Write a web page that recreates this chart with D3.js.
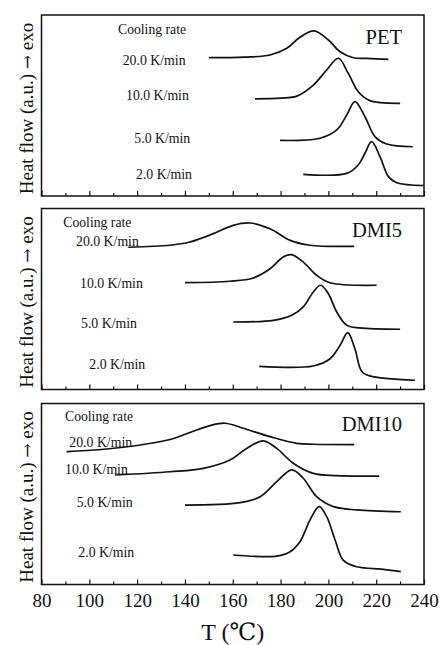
<!DOCTYPE html>
<html>
<head>
<meta charset="utf-8">
<script src="https://cdn.jsdelivr.net/npm/d3@7"></script>
<style>
  body { margin: 0; background: #fff; }
  svg { display: block; }
  text { font-family: "Liberation Serif", "Times New Roman", "DejaVu Serif", serif; fill: #111; }
</style>
</head>
<body>
<svg id="chart" width="441" height="645"></svg>
<script>
// Non-isothermal crystallization exotherms (DSC cooling scans).
// Each curve: [temperature °C, heat flow a.u.]; heat flow is shown with a
// vertical offset per cooling rate, on a 0–100 a.u. scale per panel.
const samples = ["PET", "DMI5", "DMI10"];
const rates = ["20.0 K/min", "10.0 K/min", "5.0 K/min", "2.0 K/min"];
const xTicks = [80, 100, 120, 140, 160, 180, 200, 220, 240];

const pet20 = [[150, 76.4], [165, 76.7], [175.6, 77.9], [182.6, 81.6], [188.1, 87.7], [194, 91.2],
  [200, 86.2], [204.9, 79.7], [210.5, 76.4], [216, 76.0], [225.1, 75.5]];
const pet10 = [[169.3, 53.7], [180, 54.1], [186.8, 55.2], [193.7, 61.3], [199.3, 69.6], [204.2, 76.1],
  [208.3, 67.8], [212.5, 57.6], [217.4, 52.7], [230, 51.2]];
const pet5 = [[179.8, 30.7], [196.5, 31.9], [203.5, 36.5], [207.7, 44.8], [211.1, 52.1],
  [215.3, 43.8], [219.5, 32.8], [224.4, 28.7], [235.3, 27.2]];
const pet2 = [[189.5, 12.0], [207.7, 12.5], [212.5, 17.1], [215.3, 23.6], [218.1, 30.0],
  [221.6, 21.7], [225.1, 10.7], [228.6, 7.3], [240, 5.8]];

const dmi5_20 = [[116.3, 78.6], [133.8, 79.7], [142.1, 81.5], [151.9, 86.1], [160.2, 90.7], [167.2, 92.0],
  [175.6, 88.8], [184, 82.4], [192.3, 79.7], [210.8, 79.1]];
const dmi5_10 = [[140, 59.0], [158.8, 59.8], [168.6, 61.6], [175.6, 66.7], [181.1, 73.2], [184.6, 74.5],
  [189.5, 70.4], [195.1, 63.1], [200.7, 59.0], [220.2, 57.6]];
const dmi5_5 = [[160.2, 37.3], [177, 38.2], [184.7, 41.0], [189.5, 45.6], [193.7, 53.9], [196.8, 57.6],
  [200, 52.9], [203.5, 42.8], [207.7, 35.5], [213.2, 34.0], [230, 33.3]];
const dmi5_2 = [[171.1, 12.8], [193.7, 13.0], [200.7, 17.0], [204.9, 24.4], [208.1, 31.4],
  [211.1, 22.5], [213.9, 10.1], [217.4, 7.5], [236.2, 5.1]];

const dmi10_20 = [[90.5, 73.4], [105, 74.6], [120, 76.8], [133.8, 80.1], [142.1, 84.0], [150.5, 87.8],
  [156.8, 89.1], [164.4, 86.3], [175.6, 81.7], [186.8, 78.0], [193.7, 77.5], [210.8, 77.3]];
const dmi10_10 = [[110.7, 60.5], [133.8, 62.3], [147.7, 64.2], [158.8, 68.8], [165.8, 75.2], [172.8, 79.4],
  [178.4, 75.2], [185.3, 67.0], [193.7, 61.4], [203.5, 60.1], [221.3, 59.9]];
const dmi10_5 = [[140, 43.9], [163, 45.2], [171.4, 48.5], [178.4, 56.8], [184.7, 63.3],
  [189.5, 58.7], [195.1, 48.5], [202.1, 43.0], [211.9, 41.2], [230.3, 40.2]];
const dmi10_2 = [[160.2, 16.3], [178.4, 15.7], [184, 18.1], [188.1, 23.6], [192.3, 35.6], [196.1, 43.0],
  [199.3, 37.5], [202.8, 24.6], [206.2, 13.5], [211.9, 9.8], [223, 8.4], [230.3, 7.1]];

const curvesBySample = [
  [pet20, pet10, pet5, pet2],
  [dmi5_20, dmi5_10, dmi5_5, dmi5_2],
  [dmi10_20, dmi10_10, dmi10_5, dmi10_2]
];

// ---- layout ----
const plotLeft = 41.5, plotRight = 424;
const panelTops = [15, 208.5, 403.5];
const panelH = 181;

// text placement inside each panel (relative to panel top-left)
const layout = [
  { cool: [118, 18.5], rateX: [122.7, 126, 134.3, 136], rateY: [49.5, 85, 127.5, 164], nameY: 28.5 },
  { cool: [63.3, 18.2], rateX: [76, 80, 81, 89.3], rateY: [37.5, 79.8, 119.8, 160.8], nameY: 28.5 },
  { cool: [65, 17.2], rateX: [69.3, 65, 76.7, 78.3], rateY: [43.2, 70.5, 103.8, 153.8], nameY: 27.2 }
];

const svg = d3.select("#chart");
const x = d3.scaleLinear().domain([80, 240]).range([plotLeft, plotRight]);

samples.forEach((name, i) => {
  const top = panelTops[i];
  const y = d3.scaleLinear().domain([0, 100]).range([top + panelH, top]);
  const g = svg.append("g");

  // curves
  const line = d3.line()
    .x(d => x(d[0]))
    .y(d => y(d[1]))
    .curve(d3.curveCatmullRom.alpha(0.5));
  g.selectAll("path.curve")
    .data(curvesBySample[i])
    .join("path")
    .attr("class", "curve")
    .attr("d", line)
    .attr("fill", "none")
    .attr("stroke", "#111")
    .attr("stroke-width", 1.7)
    .attr("stroke-linejoin", "round");

  // bottom axis: inward ticks, labels only on the last panel
  const axis = d3.axisBottom(x)
    .tickValues(d3.range(80, 241, 10))
    .tickSize(0)
    .tickFormat("");
  const ax = g.append("g").attr("transform", `translate(0,${top + panelH})`).call(axis);
  ax.select(".domain").remove();
  ax.selectAll(".tick line")
    .attr("y2", d => (d % 20 === 0 ? -5 : -3))
    .attr("stroke", "#111")
    .attr("stroke-width", 1.2);

  if (i === samples.length - 1) {
    const labels = d3.axisBottom(x).tickValues(xTicks).tickSize(0).tickPadding(0).tickFormat(d3.format("d"));
    const lg = g.append("g").attr("transform", `translate(0,${top + panelH})`).call(labels);
    lg.select(".domain").remove();
    lg.selectAll(".tick text")
      .attr("y", 22.5)
      .attr("dy", null)
      .style("font-family", '"Liberation Serif", "Times New Roman", serif')
      .style("font-size", "19px")
      .attr("fill", "#111");
  }

  // frame
  g.append("rect")
    .attr("x", plotLeft).attr("y", top)
    .attr("width", plotRight - plotLeft).attr("height", panelH)
    .attr("fill", "none").attr("stroke", "#111").attr("stroke-width", 1.5);

  // texts
  const L = layout[i];
  g.append("text")
    .attr("x", L.cool[0]).attr("y", top + L.cool[1])
    .style("font-size", "13.7px")
    .text("Cooling rate");
  rates.forEach((r, k) => {
    g.append("text")
      .attr("x", L.rateX[k]).attr("y", top + L.rateY[k])
      .style("font-size", "13.8px")
      .text(r);
  });
  g.append("text")
    .attr("x", 402).attr("y", top + L.nameY)
    .attr("text-anchor", "end")
    .style("font-size", "20.5px")
    .text(name);

  // y-axis title
  const yt = g.append("text")
    .attr("transform", `translate(33,${top + panelH / 2 + 3}) rotate(-90)`)
    .attr("text-anchor", "middle")
    .style("font-size", "19px");
  yt.append("tspan").text("Heat flow (a.u.) ");
  yt.append("tspan").style("font-family", '"DejaVu Serif", serif').style("font-size", "17px").text("\u2192");
  yt.append("tspan").text(" exo");
});

// x-axis title
svg.append("text")
  .attr("x", (plotLeft + plotRight) / 2)
  .attr("y", 640)
  .attr("text-anchor", "middle")
  .style("font-size", "24px")
  .text("T (\u2103)");
</script>
</body>
</html>
